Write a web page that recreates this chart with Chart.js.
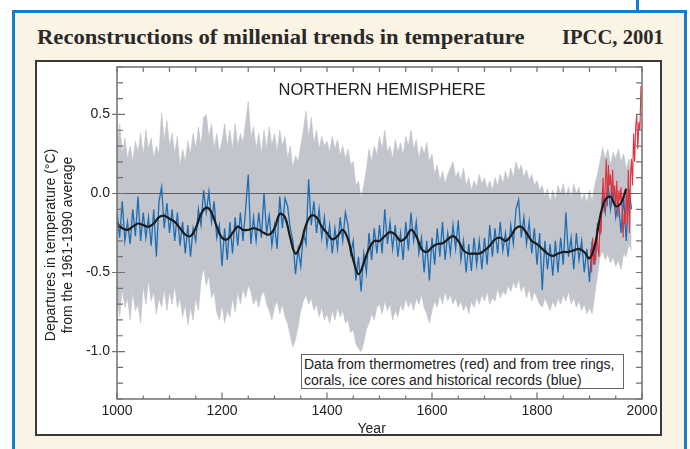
<!DOCTYPE html>
<html>
<head>
<meta charset="utf-8">
<script src="https://cdn.jsdelivr.net/npm/chart.js@4/dist/chart.umd.min.js"></script>
<style>
  html, body { margin: 0; padding: 0; }
  body { width: 690px; height: 449px; position: relative; overflow: hidden; background: #fff; font-family: "Liberation Sans", Arial, sans-serif; color: #222; }
  .card { position: absolute; left: 12px; top: 10px; width: 675px; height: 460px; box-sizing: border-box; background: #fbf3e3; border: 3px solid #1a7cc7; border-bottom: none; }
  .tab { position: absolute; left: 636px; top: 0; width: 3px; height: 12px; background: #1a7cc7; }
  .panel { position: absolute; left: 35px; top: 60px; width: 627px; height: 376px; box-sizing: border-box; background: #fff; border: 2px solid #3a3a3a; }
  .title { position: absolute; top: 27px; font: bold 21px "Liberation Serif", "DejaVu Serif", serif; line-height: 21px; color: #2a2a2a; white-space: nowrap; }
  #t1 { left: 37px; transform-origin: left top; }
  #t2 { right: 26px; transform-origin: right top; }
  canvas { position: absolute; left: 0; top: 0; }
  .nh { position: absolute; left: 382px; top: 81px; transform: translateX(-50%); font-size: 16.5px; line-height: 16.5px; white-space: nowrap; }
  .note { position: absolute; left: 301px; top: 354px; width: 323px; height: 35px; box-sizing: border-box; border: 1px solid #666; background: #fff; font-size: 14px; line-height: 16px; padding: 1px 0 0 2px; white-space: nowrap; }
  .ytitle { position: absolute; left: -61.5px; top: 228px; width: 240px; height: 34px; transform: rotate(-90deg); text-align: center; font-size: 14px; line-height: 17px; white-space: nowrap; }
  .xtitle { position: absolute; left: 357.5px; top: 421px; font-size: 14px; line-height: 14px; }
</style>
</head>
<body>
<div class="tab"></div>
<div class="card"></div>
<div class="title" id="t1">Reconstructions of millenial trends in temperature</div>
<div class="title" id="t2">IPCC, 2001</div>
<div class="panel"></div>
<canvas id="chart" width="690" height="449"></canvas>
<div class="nh">NORTHERN HEMISPHERE</div>
<div class="note">Data from thermometres (red) and from tree rings,<br>corals, ice cores and historical records (blue)</div>
<div class="ytitle">Departures in temperature (°C)<br>from the 1961-1990 average</div>
<div class="xtitle">Year</div>

<script>
// proxy reconstruction, 5-year steps from 1000 to 1980
const proxyStart = 1000, proxyStep = 5;
const proxyValues = [
  -0.12, -0.28, -0.05, -0.30, -0.18, -0.32, -0.10, -0.27, -0.02, -0.30, -0.12, -0.28, -0.15, -0.33, -0.10, -0.40, -0.05, 0.04, -0.22, -0.06,
  -0.25, -0.10, -0.30, -0.12, -0.33, -0.18, -0.38, -0.20, -0.40, -0.22, -0.30, -0.10, -0.20, 0.02, -0.12, 0.01, -0.18, -0.05, -0.28, -0.20,
  -0.46, -0.22, -0.42, -0.18, -0.38, -0.15, -0.33, -0.12, -0.30, -0.10, 0.12, -0.32, -0.15, -0.30, -0.12, -0.28, 0.00, -0.25, -0.14, -0.33,
  -0.20, -0.35, -0.02, -0.22, -0.03, -0.08, -0.22, -0.30, -0.51, -0.35, -0.46, -0.25, -0.32, 0.09, -0.20, -0.05, -0.25, -0.10, -0.28, -0.15,
  -0.33, -0.20, -0.38, -0.22, -0.35, -0.15, -0.30, -0.12, -0.20, -0.38, -0.30, -0.55, -0.40, -0.62, -0.38, -0.50, -0.25, -0.42, -0.22, -0.38,
  -0.20, -0.38, -0.10, -0.32, -0.18, -0.35, -0.20, -0.40, -0.25, -0.42, -0.18, -0.36, -0.12, -0.30, -0.18, -0.38, -0.28, -0.50, -0.30, -0.55,
  -0.28, -0.45, -0.22, -0.40, -0.18, -0.42, -0.25, -0.38, -0.20, -0.35, -0.17, -0.42, -0.30, -0.50, -0.32, -0.49, -0.28, -0.45, -0.30, -0.48,
  -0.28, -0.45, -0.20, -0.40, -0.22, -0.38, -0.18, -0.36, -0.25, -0.40, -0.20, -0.32, -0.10, -0.04, -0.28, -0.15, -0.32, -0.18, -0.38, -0.22,
  -0.45, -0.25, -0.61, -0.30, -0.48, -0.32, -0.52, -0.30, -0.50, -0.28, -0.45, -0.12, -0.40, -0.28, -0.48, -0.25, -0.42, -0.30, -0.50, -0.35,
  -0.56, -0.30, -0.45, -0.20, -0.25, -0.02, -0.12, 0.07, -0.10, 0.02, -0.15, -0.05, -0.25, -0.02, -0.30, 0.03, -0.10
];
// uncertainty band (upper / lower), same years
const bandUpper = [
  0.30, 0.44, 0.25, 0.35, 0.22, 0.30, 0.20, 0.33, 0.26, 0.38, 0.24, 0.40, 0.28, 0.35, 0.22, 0.30, 0.25, 0.51, 0.33, 0.46,
  0.30, 0.38, 0.25, 0.36, 0.17, 0.28, 0.20, 0.33, 0.25, 0.38, 0.28, 0.42, 0.30, 0.48, 0.50, 0.35, 0.44, 0.28, 0.38, 0.26,
  0.33, 0.44, 0.30, 0.40, 0.28, 0.44, 0.30, 0.38, 0.32, 0.45, 0.58, 0.35, 0.42, 0.28, 0.38, 0.25, 0.40, 0.28, 0.42, 0.30,
  0.38, 0.26, 0.40, 0.30, 0.36, 0.22, 0.30, 0.16, 0.24, 0.20, 0.30, 0.40, 0.52, 0.35, 0.48, 0.32, 0.40, 0.28, 0.36, 0.30,
  0.33, 0.26, 0.36, 0.28, 0.34, 0.24, 0.30, 0.22, 0.28, 0.18, 0.20, 0.05, 0.08, -0.03, 0.05, 0.15, 0.28, 0.20, 0.30, 0.24,
  0.36, 0.28, 0.40, 0.26, 0.30, 0.22, 0.34, 0.26, 0.32, 0.24, 0.36, 0.30, 0.40, 0.28, 0.34, 0.22, 0.30, 0.25, 0.32, 0.20,
  0.25, 0.12, 0.18, 0.08, 0.14, 0.06, 0.12, 0.16, 0.20, 0.10, 0.14, 0.08, 0.16, 0.05, 0.10, 0.02, 0.08, 0.04, 0.12, 0.06,
  0.10, 0.03, 0.08, 0.02, 0.10, 0.05, 0.12, 0.06, 0.14, 0.08, 0.16, 0.10, 0.20, 0.14, 0.18, 0.10, 0.15, 0.08, 0.12, 0.05,
  0.08, 0.02, 0.05, -0.02, 0.03, -0.06, 0.02, -0.04, 0.05, 0.00, 0.06, -0.02, 0.04, -0.03, 0.06, 0.00, 0.04, -0.05, 0.00, -0.06,
  0.02, -0.05, 0.05, 0.12, 0.20, 0.29, 0.22, 0.28, 0.18, 0.26, 0.22, 0.28, 0.20, 0.25, 0.15, 0.22, 0.10
];
const bandLower = [
  -0.65, -0.78, -0.60, -0.72, -0.66, -0.80, -0.62, -0.74, -0.70, -0.82, -0.58, -0.70, -0.55, -0.68, -0.62, -0.76, -0.66, -0.72, -0.60, -0.74,
  -0.62, -0.70, -0.58, -0.72, -0.66, -0.78, -0.70, -0.83, -0.72, -0.80, -0.66, -0.74, -0.55, -0.47, -0.58, -0.52, -0.66, -0.62, -0.75, -0.80,
  -0.70, -0.82, -0.74, -0.78, -0.66, -0.75, -0.62, -0.70, -0.60, -0.66, -0.58, -0.62, -0.70, -0.66, -0.72, -0.64, -0.62, -0.70, -0.74, -0.80,
  -0.72, -0.68, -0.76, -0.70, -0.78, -0.82, -0.90, -0.97, -0.92, -0.84, -0.74, -0.68, -0.64, -0.70, -0.66, -0.74, -0.70, -0.78, -0.72, -0.80,
  -0.76, -0.82, -0.74, -0.80, -0.72, -0.78, -0.74, -0.82, -0.80, -0.88, -0.86, -0.95, -0.98, -1.00, -0.94, -0.86, -0.82, -0.76, -0.80, -0.72,
  -0.70, -0.76, -0.68, -0.74, -0.70, -0.80, -0.74, -0.78, -0.70, -0.74, -0.66, -0.72, -0.68, -0.74, -0.66, -0.70, -0.64, -0.72, -0.76, -0.82,
  -0.74, -0.68, -0.72, -0.64, -0.70, -0.62, -0.68, -0.64, -0.70, -0.66, -0.72, -0.68, -0.74, -0.70, -0.76, -0.68, -0.72, -0.66, -0.70, -0.64,
  -0.68, -0.62, -0.70, -0.66, -0.68, -0.60, -0.66, -0.62, -0.64, -0.58, -0.62, -0.56, -0.60, -0.54, -0.62, -0.58, -0.66, -0.60, -0.68, -0.62,
  -0.66, -0.70, -0.72, -0.66, -0.70, -0.74, -0.68, -0.72, -0.66, -0.70, -0.64, -0.68, -0.62, -0.70, -0.66, -0.72, -0.68, -0.74, -0.70, -0.76,
  -0.72, -0.76, -0.64, -0.52, -0.40, -0.36, -0.42, -0.38, -0.44, -0.40, -0.46, -0.42, -0.48, -0.38, -0.40, -0.32, -0.36
];
// 40-year smoothed curve, 10-year steps 1000-1970
const smoothStart = 1000, smoothStep = 10;
const smoothValues = [
  -0.19, -0.22, -0.23, -0.21, -0.19, -0.20, -0.21, -0.19, -0.15, -0.14,
  -0.16, -0.18, -0.22, -0.26, -0.27, -0.22, -0.13, -0.09, -0.12, -0.21,
  -0.28, -0.29, -0.25, -0.21, -0.23, -0.23, -0.22, -0.23, -0.25, -0.26,
  -0.22, -0.13, -0.15, -0.28, -0.38, -0.32, -0.20, -0.14, -0.15, -0.21,
  -0.25, -0.29, -0.27, -0.23, -0.29, -0.42, -0.51, -0.44, -0.35, -0.30,
  -0.30, -0.27, -0.245, -0.26, -0.30, -0.28, -0.23, -0.27, -0.35, -0.37,
  -0.34, -0.32, -0.315, -0.29, -0.27, -0.30, -0.36, -0.38, -0.38, -0.38,
  -0.36, -0.33, -0.29, -0.28, -0.30, -0.27, -0.22, -0.21, -0.25, -0.30,
  -0.32, -0.35, -0.38, -0.395, -0.38, -0.37, -0.37, -0.36, -0.35, -0.37,
  -0.41, -0.33, -0.15, -0.04, -0.02, -0.08, -0.06, 0.03
];
// thermometer record, 2-year steps 1902-1998
const thermoStart = 1902, thermoStep = 2;
const thermoValues = [
  -0.35, -0.50, -0.28, -0.45, -0.38, -0.42, -0.22, -0.35, -0.40, -0.15,
  -0.25, -0.05, 0.10, -0.12, 0.05, 0.22, -0.08, 0.18, 0.05, 0.12,
  -0.05, 0.15, -0.02, 0.05, -0.10, 0.08, -0.15, 0.02, -0.05, 0.04,
  -0.10, -0.28, -0.12, -0.20, 0.02, -0.18, 0.15, -0.25, 0.10, 0.22,
  0.05, 0.38, 0.20, 0.42, 0.50, 0.28, 0.45, 0.40, 0.68
];
const xTicks = [1000, 1200, 1400, 1600, 1800, 2000];
const yTicks = [-1.0, -0.5, 0.0, 0.5];

const toPoints = (start, step, vals) => vals.map((v, i) => ({ x: start + i * step, y: v }));

const frameTicks = {
  id: 'frameTicks',
  afterDatasetDraw(chart, args) {
    if (args.index !== 1) return;
    const { ctx, chartArea: a, scales: { y } } = chart;
    const y0 = Math.round(y.getPixelForValue(0)) + 0.5;
    ctx.save();
    ctx.strokeStyle = '#5e5e5e';
    ctx.lineWidth = 1;
    ctx.beginPath();
    ctx.moveTo(a.left, y0);
    ctx.lineTo(a.right, y0);
    ctx.stroke();
    ctx.restore();
  },
  afterDraw(chart) {
    const { ctx, chartArea: a, scales: { x, y } } = chart;
    ctx.save();
    ctx.strokeStyle = '#707070';
    ctx.lineWidth = 1.5;
    ctx.strokeRect(a.left, a.top, a.right - a.left, a.bottom - a.top);
    ctx.lineWidth = 1.2;
    ctx.beginPath();
    for (let k = -13; k <= 8; k++) {
      const py = y.getPixelForValue(k / 10);
      const major = k % 5 === 0;
      ctx.moveTo(a.left - (major ? 5 : 0), py);
      ctx.lineTo(a.left + (major ? 8 : 6), py);
      ctx.moveTo(a.right, py);
      ctx.lineTo(a.right - 6, py);
    }
    for (let yr = 1000; yr <= 2000; yr += 50) {
      const px = x.getPixelForValue(yr);
      const major = yr % 200 === 0;
      ctx.moveTo(px, a.top);
      ctx.lineTo(px, a.top + 5);
      ctx.moveTo(px, a.bottom);
      ctx.lineTo(px, a.bottom - (major ? 6.5 : 3.5));
    }
    ctx.stroke();
    ctx.restore();
  }
};

const initChart = () => {
  const ctx = document.getElementById('chart').getContext('2d');
  new Chart(ctx, {
    type: 'line',
    data: {
      datasets: [
        {
          data: toPoints(proxyStart, proxyStep, bandUpper),
          borderColor: 'rgba(194,197,203,0.7)',
          backgroundColor: '#c2c5cb',
          borderWidth: 1,
          fill: '+1',
          order: 6
        },
        {
          data: toPoints(proxyStart, proxyStep, bandLower),
          borderColor: 'rgba(194,197,203,0.7)',
          borderWidth: 1,
          fill: false,
          order: 5
        },
        {
          data: toPoints(proxyStart, proxyStep, proxyValues),
          borderColor: '#1d6db5',
          borderWidth: 1.3,
          fill: false,
          order: 3
        },
        {
          data: toPoints(thermoStart, thermoStep, thermoValues),
          borderColor: '#e1313e',
          borderWidth: 1.1,
          fill: false,
          order: 2
        },
        {
          data: toPoints(smoothStart, smoothStep, smoothValues),
          borderColor: '#1b1b1b',
          borderWidth: 2.2,
          tension: 0.4,
          fill: false,
          order: 1
        }
      ]
    },
    options: {
      responsive: false,
      animation: false,
      devicePixelRatio: 1,
      layout: { padding: { left: 35, right: 48, top: 67, bottom: 14 } },
      elements: { point: { radius: 0 } },
      plugins: { legend: { display: false }, tooltip: { enabled: false } },
      scales: {
        x: {
          type: 'linear',
          min: 1000,
          max: 2000,
          afterFit: s => { s.height = 36; },
          afterBuildTicks: s => { s.ticks = xTicks.map(v => ({ value: v })); },
          grid: { display: false, drawTicks: false },
          border: { display: false },
          ticks: {
            padding: 4,
            autoSkip: false,
            maxRotation: 0,
            color: '#222',
            font: { size: 14, family: 'Liberation Sans, Arial, sans-serif' },
            callback: v => String(v)
          }
        },
        y: {
          type: 'linear',
          min: -1.3,
          max: 0.8,
          afterFit: s => { s.width = 82; },
          afterBuildTicks: s => { s.ticks = yTicks.map(v => ({ value: v })); },
          grid: { display: false, drawTicks: false },
          border: { display: false },
          ticks: {
            padding: 7,
            color: '#222',
            font: { size: 14, family: 'Liberation Sans, Arial, sans-serif' },
            callback: v => Number(v).toFixed(1)
          }
        }
      }
    },
    plugins: [frameTicks]
  });
};

const fitTitles = () => {
  const t1 = document.getElementById('t1');
  const t2 = document.getElementById('t2');
  t1.style.transform = 'scaleX(' + (487 / t1.offsetWidth) + ')';
  t2.style.transform = 'scaleX(' + (102 / t2.offsetWidth) + ')';
};

fitTitles();
initChart();
</script>
</body>
</html>
